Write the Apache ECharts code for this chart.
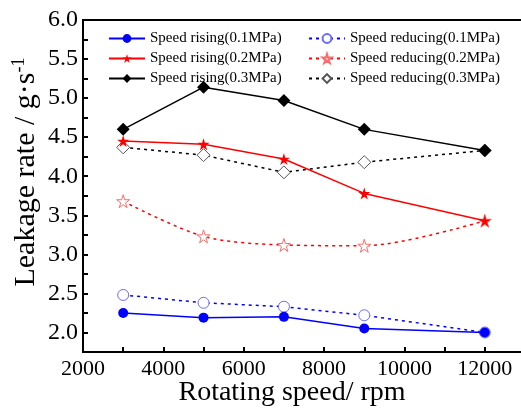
<!DOCTYPE html>
<html>
<head>
<meta charset="utf-8">
<script src="https://cdn.jsdelivr.net/npm/echarts@6/dist/echarts.min.js"></script>
<style>
  html, body { margin: 0; padding: 0; background: #fff; }
  #chart { width: 521px; height: 408px; }
</style>
</head>
<body>
<div id="chart"></div>
<script>
// rotating speed (rpm)
var speeds = [3000, 5000, 7000, 9000, 12000];

// leakage rate, g/s
var rise01 = [2.25, 2.19, 2.20, 2.05, 2.00];
var rise02 = [4.45, 4.41, 4.22, 3.78, 3.43];
var rise03 = [4.60, 5.14, 4.97, 4.60, 4.33];
var red01 = [2.48, 2.38, 2.33, 2.22, 2.00];
var red02 = [3.68, 3.23, 3.12, 3.11, 3.43];
var red03 = [4.37, 4.27, 4.05, 4.18, 4.33];

var names = [
  'Speed rising(0.1MPa)', 'Speed rising(0.2MPa)', 'Speed rising(0.3MPa)',
  'Speed reducing(0.1MPa)', 'Speed reducing(0.2MPa)', 'Speed reducing(0.3MPa)'
];

var star = 'path://M50,0 L61,35 L98,35 L68,57 L79,91 L50,70 L21,91 L32,57 L2,35 L39,35 Z';
var font = 'Liberation Serif';

function pairs(vals) {
  var out = [];
  for (var i = 0; i < speeds.length; i++) out.push([speeds[i], vals[i]]);
  return out;
}

function line(name, vals, color, symbol, size, dashed, open, symColor) {
  return {
    name: name,
    type: 'line',
    data: pairs(vals),
    symbol: symbol,
    symbolSize: size,
    smooth: dashed && name.indexOf('0.2') > 0 ? 0.3 : false,
    lineStyle: { color: color, width: 1.5, type: dashed ? [3, 4] : 'solid' },
    itemStyle: open
      ? { color: '#fff', borderColor: symColor || color, borderWidth: 1 }
      : { color: color, borderColor: color, borderWidth: 0 },
    emphasis: { disabled: true },
    z: open ? 3 : 4
  };
}

var chart = echarts.init(document.getElementById('chart'));

var option = {
  animation: false,
  textStyle: { fontFamily: font },
  grid: {
    left: 83, top: 20, width: 442, height: 332,
    containLabel: false, outerBoundsMode: 'none',
    show: true, borderColor: '#000', borderWidth: 2
  },
  legend: [
    {
      data: names.slice(0, 3),
      orient: 'vertical',
      left: 103, top: 26,
      itemWidth: 36, itemHeight: 11, itemGap: 5,
      textStyle: { fontFamily: font, fontSize: 15, color: '#000' }
    },
    {
      data: names.slice(3),
      orient: 'vertical',
      left: 303, top: 26,
      itemWidth: 36, itemHeight: 11, itemGap: 5,
      textStyle: { fontFamily: font, fontSize: 15, color: '#000' }
    }
  ],
  xAxis: {
    type: 'value',
    min: 2000, max: 13000, interval: 1000,
    name: 'Rotating speed/ rpm',
    nameLocation: 'middle',
    nameGap: 27,
    nameMoveOverlap: false,
    nameTextStyle: { fontFamily: font, fontSize: 28, color: '#000', padding: [0, 24, 0, 0] },
    axisLine: { lineStyle: { color: '#000', width: 2 } },
    axisTick: { inside: true, length: 5, lineStyle: { color: '#000', width: 2 } },
    splitLine: { show: false },
    axisLabel: {
      fontFamily: font, fontSize: 22, color: '#000', margin: 6,
      formatter: function (v) { return v % 2000 === 0 && v <= 12000 ? v : ''; }
    }
  },
  yAxis: {
    type: 'value',
    min: 1.75, max: 6.0, interval: 0.25,
    name: '{a|Leakage rate / g·s}{b|-1}',
    nameLocation: 'middle',
    nameRotate: 90,
    nameGap: 40,
    nameMoveOverlap: false,
    nameTextStyle: {
      padding: [0, 0, 0, 28],
      rich: {
        a: { fontFamily: font, fontSize: 30, color: '#000' },
        b: { fontFamily: font, fontSize: 18, color: '#000', verticalAlign: 'top', padding: [0, 0, 15, 0] }
      }
    },
    axisLine: { lineStyle: { color: '#000', width: 2 } },
    axisTick: { inside: true, length: 5, lineStyle: { color: '#000', width: 2 } },
    splitLine: { show: false },
    axisLabel: {
      fontFamily: font, fontSize: 24, color: '#000', margin: 5,
      formatter: function (v) { return Math.round(v * 100) % 50 === 0 ? v.toFixed(1) : ''; }
    }
  },
  series: [
    line(names[0], rise01, '#0000ff', 'circle', 10, false, false),
    line(names[1], rise02, '#ff0000', star, 12, false, false),
    line(names[2], rise03, '#000000', 'diamond', 13, false, false),
    line(names[3], red01, '#0000ff', 'circle', 11, true, true, '#6a6aff'),
    line(names[4], red02, '#ff0000', star, 13, true, true, '#ff6a6a'),
    line(names[5], red03, '#000000', 'diamond', 13, true, true, '#555')
  ]
};

chart.setOption(option);
</script>
</body>
</html>
